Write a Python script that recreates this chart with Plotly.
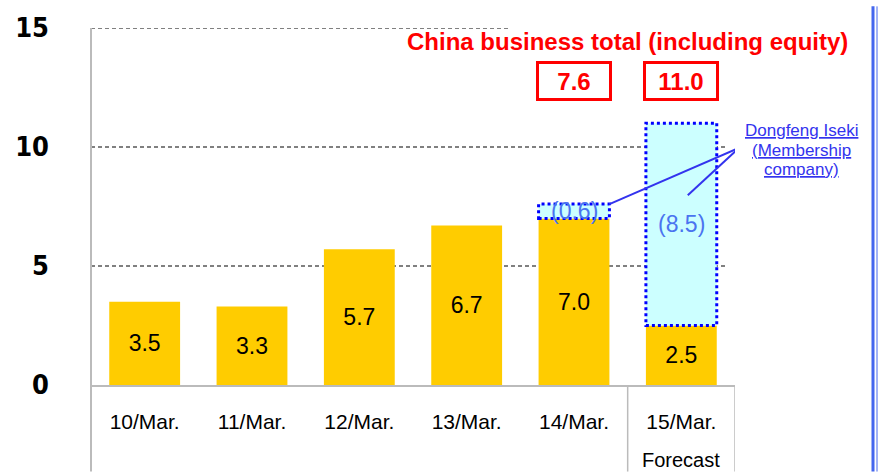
import plotly.graph_objects as go

categories = ["10/Mar.", "11/Mar.", "12/Mar.", "13/Mar.", "14/Mar.", "15/Mar."]
china_sales = [3.5, 3.3, 5.7, 6.7, 7.0, 2.5]
equity_sales = [0, 0, 0, 0, 0.6, 8.5]
y_ticks = [0, 5, 10, 15]
title_text = "China business total (including equity)"
note_lines = ["Dongfeng Iseki", "(Membership", "company)"]

idx = list(range(len(categories)))
BW = 0.66
YELLOW = "#FFCC00"
CYAN = "#CCFFFF"
RED = "#FF0000"
LBLUE = "#4A74F0"
DBLUE = "#0000FF"
GRID = "#808080"
AXIS = "#BBBBBB"
FONT = "Arial, Liberation Sans"
PW, PH = 644, 363  # plot area size in px

fig = go.Figure()
fig.add_trace(go.Bar(
    x=idx, y=china_sales, width=BW, marker=dict(color=YELLOW, line=dict(width=0)),
    text=[f"{v:.1f}" for v in china_sales], textposition="inside",
    insidetextanchor="middle", textfont=dict(family=FONT, size=23, color="black"),
    hoverinfo="skip",
))
fig.add_trace(go.Bar(
    x=idx, y=equity_sales, base=china_sales, width=BW,
    marker=dict(color=CYAN, line=dict(width=0)), hoverinfo="skip",
))

shapes = []
annotations = []
# gridlines (dashed)
for t in y_ticks[1:]:
    x1 = 3.4 if t == 15 else 5.42
    shapes.append(dict(type="line", xref="x", yref="y", x0=-0.5, x1=x1, y0=t, y1=t,
                       line=dict(color=GRID, width=2, dash="4px,3px"), layer="below"))

# dotted borders around equity segments + labels + total boxes
for i, (b, v) in enumerate(zip(china_sales, equity_sales)):
    if v > 0:
        shapes.append(dict(type="rect", xref="x", yref="y", x0=i - BW / 2, x1=i + BW / 2,
                           y0=b, y1=b + v, line=dict(color=DBLUE, width=3, dash="dot")))
        annotations.append(dict(x=i, y=b + v / 2, xref="x", yref="y", text=f"({v:.1f})",
                                xanchor="center", yanchor="middle", showarrow=False,
                                font=dict(family=FONT, size=23, color=LBLUE)))
        tot = b + v
        annotations.append(dict(x=i, y=12.78, xref="x", yref="y", text=f"<b>{tot:.1f}</b>",
                                xanchor="center", yanchor="middle",
                                showarrow=False, width=70, height=34, borderwidth=3, borderpad=0,
                                bordercolor=RED, bgcolor="white",
                                font=dict(family=FONT, size=24, color=RED)))

# y axis line extending down through the category table
shapes.append(dict(type="line", xref="paper", yref="paper", x0=0, x1=0, y0=-88 / PH, y1=1,
                   line=dict(color=AXIS, width=2)))
# table vertical separators
for xv in [4.5, 5.5]:
    shapes.append(dict(type="line", xref="x", yref="paper", x0=xv, x1=xv, y0=-88 / PH, y1=0,
                       line=dict(color=AXIS, width=1.5)))
# connector lines to note
shapes.append(dict(type="line", xref="x", yref="y", x0=4.33, y0=7.6, x1=5.536, y1=9.96,
                   line=dict(color="#3333EE", width=2)))
shapes.append(dict(type="line", xref="x", yref="y", x0=5.06, y0=7.97, x1=5.536, y1=9.96,
                   line=dict(color="#3333EE", width=2)))
# right-edge blue double line
for px, w in [(873, 3), (877, 1)]:
    shapes.append(dict(type="line", xref="paper", yref="paper", x0=(px - 91) / PW, x1=(px - 91) / PW,
                       y0=-88 / PH, y1=1 + 22 / PH, line=dict(color="#4466EE", width=w)))

# title
annotations.append(dict(x=(627 - 91) / PW, y=(385 - 36) / PH, xref="paper", yref="paper",
                        xanchor="center", yanchor="middle",
                        text=f"<b>{title_text}</b>", showarrow=False,
                        font=dict(family=FONT, size=24, color=RED)))
# note (underlined, three lines)
for txt, py in zip(note_lines, [126, 147, 166]):
    annotations.append(dict(x=(801 - 91) / PW, y=(385 - py) / PH, xref="paper", yref="paper",
                            xanchor="center", yanchor="middle",
                            text=f"<u>{txt}</u>", showarrow=False,
                            font=dict(family=FONT, size=17, color="#3333EE")))
# Forecast label
annotations.append(dict(x=5, y=-(461 - 385) / PH, xref="x", yref="paper", text="Forecast",
                        xanchor="center", yanchor="middle",
                        showarrow=False, font=dict(family=FONT, size=20, color="black")))

fig.update_layout(
    width=878, height=473,
    margin=dict(l=91, r=143, t=22, b=88),
    paper_bgcolor="white", plot_bgcolor="white",
    barmode="overlay", showlegend=False,
    shapes=shapes, annotations=annotations,
    xaxis=dict(range=[-0.5, 5.5], tickmode="array", tickvals=idx, ticktext=categories,
               showgrid=False, zeroline=False, showline=True, linecolor=AXIS, linewidth=2,
               ticks="", ticklabelstandoff=17,
               tickfont=dict(family=FONT, size=21, color="black")),
    yaxis=dict(range=[0, 15], tickmode="array", tickvals=y_ticks, showgrid=False, zeroline=False,
               showline=False, ticks="", ticklabelstandoff=41,
               tickfont=dict(family="Liberation Sans Narrow, DejaVu Sans Condensed", size=27,
                             color="black", weight="bold")),
)

fig.write_html("out.html")
